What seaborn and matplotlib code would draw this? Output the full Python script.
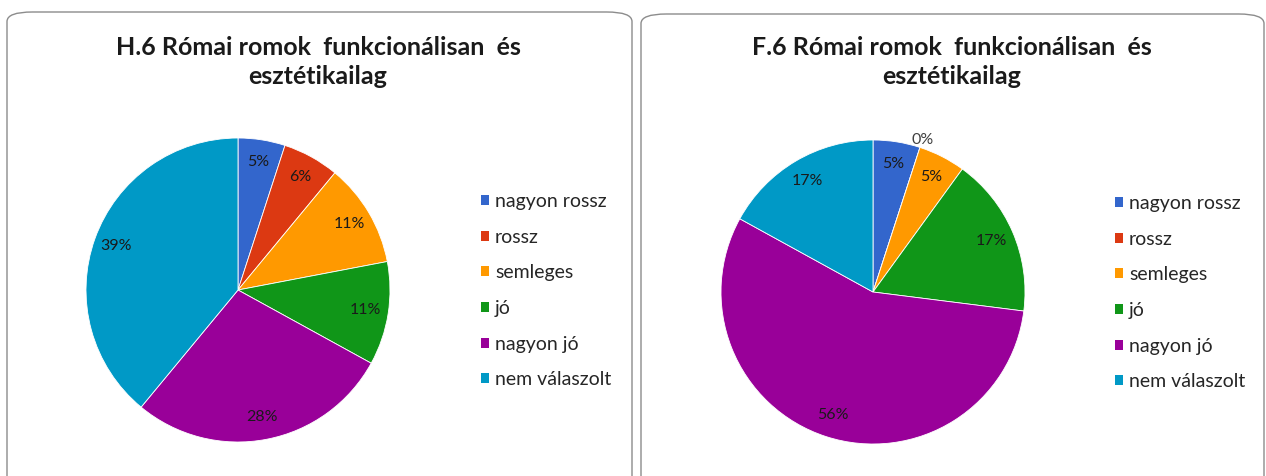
import matplotlib
matplotlib.use("Agg")
import matplotlib.pyplot as plt
from matplotlib.patches import FancyBboxPatch, Patch
import seaborn as sns

# answer categories (same for both charts)
categories = ["nagyon rossz", "rossz", "semleges", "jó", "nagyon jó", "nem válaszolt"]

# percentages
h6_values = [5, 6, 11, 11, 28, 39]
f6_values = [5, 0, 5, 17, 56, 17]

titles = [
    "H.6 Római romok  funkcionálisan  és\nesztétikailag",
    "F.6 Római romok  funkcionálisan  és\nesztétikailag",
]

colors = ["#3366CC", "#DC3912", "#FF9900", "#109618", "#990099", "#0099C6"]

sns.set_theme(style="white")
plt.rcParams["font.family"] = ["Lato", "DejaVu Sans"]
palette = sns.color_palette(colors)

W, H = 1266, 476
fig = plt.figure(figsize=(W / 100, H / 100), dpi=100)
fig.patch.set_facecolor("white")


def fx(px):
    return px / W


def fy(py):
    return 1 - py / H


panels = [
    dict(values=h6_values, title=titles[0], box=(7, 12, 632, 490), center=(238, 290),
         title_x=318, legend_x=481, legend_y=193),
    dict(values=f6_values, title=titles[1], box=(641, 14, 1264, 490), center=(873, 292),
         title_x=952, legend_x=1115, legend_y=195),
]

R = 152
for p in panels:
    x0, y0, x1, y1 = p["box"]
    box = FancyBboxPatch((fx(x0), fy(y1)), fx(x1 - x0), (y1 - y0) / H,
                         boxstyle="round,pad=0,rounding_size=0.02",
                         transform=fig.transFigure, facecolor="none",
                         edgecolor="#8c8c8c", linewidth=1.0, zorder=-1)
    fig.patches.append(box)

    cx, cy = p["center"]
    ax = fig.add_axes([fx(cx - R), fy(cy + R), fx(2 * R), 2 * R / H])
    wedges, texts, autotexts = ax.pie(
        p["values"], colors=palette, startangle=90, counterclock=False,
        autopct=lambda v: f"{v:.0f}%", pctdistance=0.85,
        wedgeprops=dict(edgecolor="white", linewidth=0.6),
        textprops=dict(fontsize=11.5, color="#1a1a1a"))
    # zero slices get their label just outside the pie
    for val, t in zip(p["values"], autotexts):
        if val == 0:
            x, y = t.get_position()
            t.set_position((x * 1.24, y * 1.24))
            t.set_color("#404040")
    ax.set_xlim(-1, 1)
    ax.set_ylim(-1, 1)
    ax.set_aspect("equal")
    ax.axis("off")

    fig.text(fx(p["title_x"]), fy(62), p["title"], ha="center", va="center",
             fontsize=18, fontweight="bold", linespacing=1.3, color="#1a1a1a")

    handles = [Patch(facecolor=c, edgecolor="none") for c in palette]
    fig.legend(handles, categories, loc="upper left",
               bbox_to_anchor=(fx(p["legend_x"]), fy(p["legend_y"])), frameon=False,
               fontsize=14, handlelength=0.42, handleheight=0.42, handletextpad=0.3,
               labelspacing=0.96, borderpad=0, borderaxespad=0)

fig.savefig("out.png", dpi=100, facecolor="white")
